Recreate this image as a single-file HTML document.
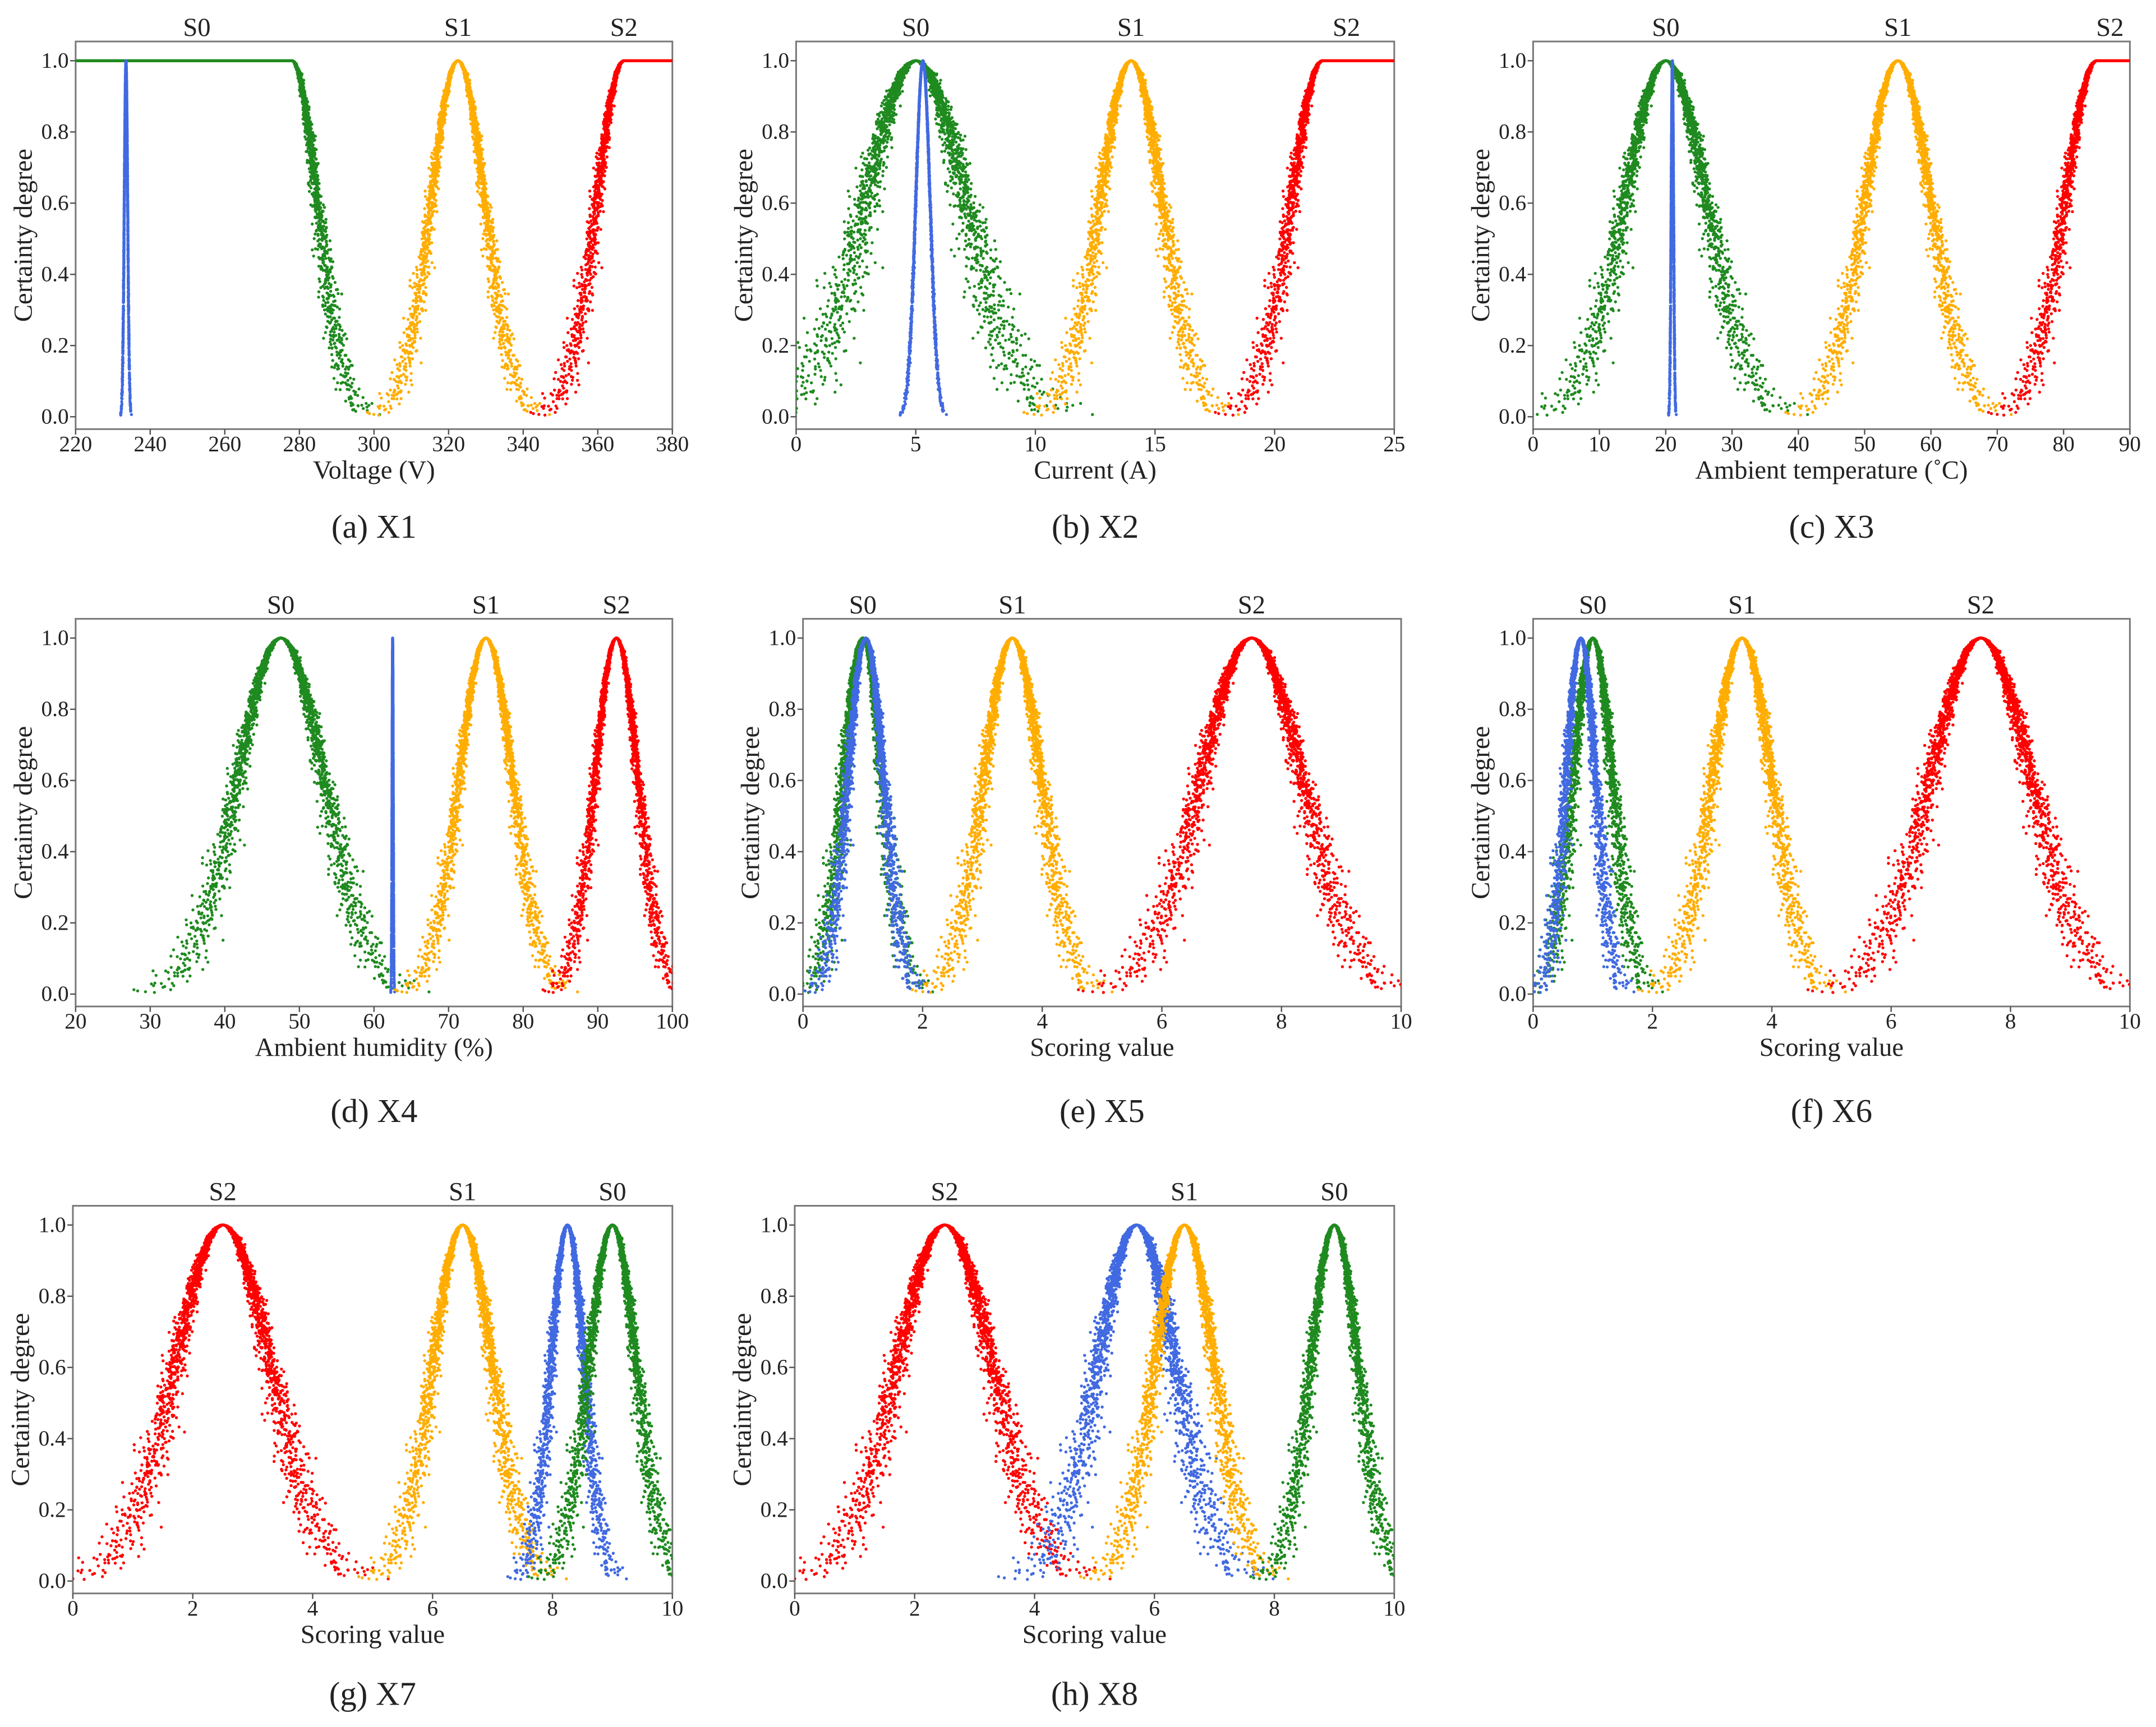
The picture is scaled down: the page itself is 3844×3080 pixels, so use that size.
<!DOCTYPE html>
<html><head><meta charset="utf-8"><style>
html,body{margin:0;padding:0;background:#fff;}
svg{display:block;font-family:"Liberation Serif",serif;}
</style></head>
<body>
<svg id="fig" width="3844" height="3080" viewBox="0 0 1568 1256" xmlns="http://www.w3.org/2000/svg"></svg>
<script>
// ---- data (per panel) ----
const panelIds = ['a','b','c','d','e','f','g','h'];
const captions = ['(a) X1','(b) X2','(c) X3','(d) X4','(e) X5','(f) X6','(g) X7','(h) X8'];
const xLabels = ['Voltage (V)','Current (A)','Ambient temperature (˚C)','Ambient humidity (%)','Scoring value','Scoring value','Scoring value','Scoring value'];
const xMins = [220,0,0,20,0,0,0,0];
const xMaxs = [380,25,90,100,10,10,10,10];
const xTickVals = [[220,240,260,280,300,320,340,360,380],[0,5,10,15,20,25],[0,10,20,30,40,50,60,70,80,90],[20,30,40,50,60,70,80,90,100],[0,2,4,6,8,10],[0,2,4,6,8,10],[0,2,4,6,8,10],[0,2,4,6,8,10]];
const yTickVals = [0,0.2,0.4,0.6,0.8,1.0];
const stateNames = [['S0','S1','S2'],['S0','S1','S2'],['S0','S1','S2'],['S0','S1','S2'],['S0','S1','S2'],['S0','S1','S2'],['S2','S1','S0'],['S2','S1','S0']];
const stateValues = [[252.5,322.5,367],[5,14,23],[20,55,87],[47.5,75,92.5],[1,3.5,7.5],[1,3.5,7.5],[2.5,6.5,9],[2.5,6.5,9]];
// clouds: colour key, Ex, En, He, shape (N normal, L flat-left, R flat-right)
const cloudColors = [['green','blue','orange','red'],['green','blue','orange','red'],['green','blue','orange','red'],['green','blue','orange','red'],['green','blue','orange','red'],['green','blue','orange','red'],['red','orange','blue','green'],['red','blue','orange','green']];
const cloudEx = [[278,233.5,322.5,367],[5,5.3,14,22],[20,21,55,85],[47.5,62.5,75,92.5],[1,1.05,3.5,7.5],[1.0,0.8,3.5,7.5],[2.5,6.5,8.25,9],[2.5,5.7,6.5,9]];
const cloudEn = [[6.8,0.45,7.2,7.3],[2.1,0.3,1.3,1.3],[6.2,0.18,5.0,4.8],[5.8,0.08,3.6,2.9],[0.33,0.3,0.48,0.85],[0.33,0.25,0.5,0.85],[0.8,0.5,0.28,0.4],[0.8,0.65,0.5,0.4]];
const cloudHe = [[0.8,0.02,0.7,0.8],[0.3,0.01,0.15,0.15],[0.7,0.01,0.5,0.5],[0.6,0.002,0.35,0.3],[0.05,0.04,0.06,0.09],[0.05,0.04,0.06,0.09],[0.09,0.06,0.04,0.05],[0.09,0.09,0.06,0.05]];
const cloudShape = [['L','N','N','R'],['N','N','N','R'],['N','N','N','R'],['N','N','N','N'],['N','N','N','N'],['N','N','N','N'],['N','N','N','N'],['N','N','N','N']];
// ---- layout ----
const boxL = [55,579,1115,55,584,1115,53,578];
const boxR = [489,1014,1549,489,1019,1549,489,1014];
const boxT = [30,30,30,450,450,450,877,877];
const rowCap = [383,383,383,808,808,808,1232,1232];
const palette = {green:'#1f8a1f',blue:'#4169e1',orange:'#ffad00',red:'#f00'};
const NS='http://www.w3.org/2000/svg';
const svg=document.getElementById('fig');
function mk(tag,attrs,parent){const e=document.createElementNS(NS,tag);for(const k in attrs)e.setAttribute(k,attrs[k]);(parent||svg).appendChild(e);return e;}
function halton(i,b){let f=1,r=0;while(i>0){f/=b;r+=f*(i%b);i=Math.floor(i/b);}return r;}
const N=2600;
panelIds.forEach((pid,p)=>{
  const g=mk('g',{});
  
  
  const L=boxL[p],R=boxR[p],T=boxT[p],B=T+282;
  const y1=T+14,y0=T+273;
  const sx=v=>L+(v-xMins[p])/(xMaxs[p]-xMins[p])*(R-L);
  const sy=v=>y0-(y0-y1)*v;
  const clip=mk('clipPath',{id:'clip'+pid},g);mk('rect',{x:L,y:T,width:R-L,height:B-T},clip);
  const frame=mk('rect',{x:L,y:T,width:R-L,height:B-T,fill:'none',stroke:'#777','stroke-width':1.2},g);
  
  
  const cg=mk('g',{'clip-path':'url(#clip'+pid+')'},g);
  cloudEx[p].forEach((ex,c)=>{
    const en=cloudEn[p][c],he=cloudHe[p][c],sh=cloudShape[p][c];
    let d='';
    for(let i=1;i<=N;i++){
      const u1=halton(i,2),u2=halton(i,3),u3=halton(i,5),u4=halton(i,7);
      let enp=Math.abs(en+he*Math.sqrt(-2*Math.log(u1))*Math.cos(2*Math.PI*u2));
      if(enp<1e-6)enp=1e-6;
      const x=ex+enp*Math.sqrt(-2*Math.log(u3))*Math.cos(2*Math.PI*u4);
      let y=Math.exp(-(x-ex)*(x-ex)/(2*enp*enp));
      if((sh==='L'&&x<ex)||(sh==='R'&&x>ex))y=1;
      d+='M'+sx(x).toFixed(1)+' '+sy(y).toFixed(1)+'h0';
    }
    if(sh==='L')d+='M'+sx(xMins[p])+' '+sy(1)+'H'+sx(ex);
    if(sh==='R')d+='M'+sx(ex)+' '+sy(1)+'H'+sx(xMaxs[p]);
    const path=mk('path',{d:d,fill:'none',stroke:palette[cloudColors[p][c]],'stroke-width':2.2,'stroke-linecap':'round'},cg);
    
    
  });
  // y ticks
  yTickVals.forEach(v=>{
    mk('line',{x1:L-4,x2:L,y1:sy(v),y2:sy(v),stroke:'#555','stroke-width':1},g);
    const t=mk('text',{x:L-5,y:sy(v)+5,'text-anchor':'end','font-size':16,fill:'#222'},g);
    t.textContent=v.toFixed(1);
    
    
  });
  xTickVals[p].forEach(v=>{
    mk('line',{x1:sx(v),x2:sx(v),y1:B,y2:B+4,stroke:'#555','stroke-width':1},g);
    const t=mk('text',{x:sx(v),y:B+16,'text-anchor':'middle','font-size':16,fill:'#222'},g);
    t.textContent=v;
    
    
  });
  const xl=mk('text',{x:(L+R)/2,y:B+36,'text-anchor':'middle','font-size':19,fill:'#222'},g);
  xl.textContent=xLabels[p];
  
  
  const yl=mk('text',{x:0,y:0,'text-anchor':'middle','font-size':19,fill:'#222',transform:'translate('+(L-32)+','+((T+B)/2)+') rotate(-90)'},g);
  yl.textContent='Certainty degree';
  
  
  stateNames[p].forEach((s,k)=>{
    const t=mk('text',{x:sx(stateValues[p][k]),y:T-4,'text-anchor':'middle','font-size':19,fill:'#222'},g);
    t.textContent=s;
    
    
  });
  const cap=mk('text',{x:(L+R)/2,y:rowCap[p]+8,'text-anchor':'middle','font-size':24,fill:'#222'},g);
  cap.textContent=captions[p];
  
  
});
</script>
</body></html>
